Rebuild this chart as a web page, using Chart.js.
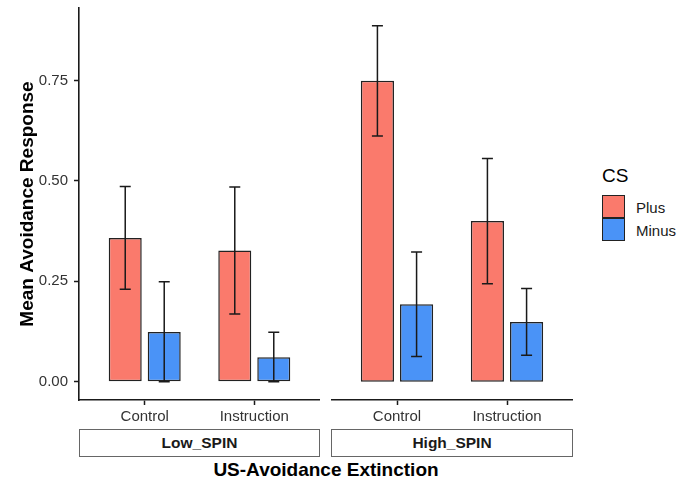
<!DOCTYPE html>
<html lang="en">
<head>
    <meta charset="UTF-8">
    <title>Mean Avoidance Response</title>
    <script src="https://cdn.jsdelivr.net/npm/chart.js@4.4.1/dist/chart.umd.min.js"></script>
    <style>
        body {
            margin: 0;
            background: #fff;
            font-family: 'Liberation Sans', Arial, sans-serif;
        }
        .wrap {
            position: relative;
            width: 688px;
            height: 480px;
        }
        .panel { position: absolute; top: 0; }
        .strip {
            position: absolute;
            top: 429px;
            height: 28px;
            box-sizing: border-box;
            border: 1px solid #666;
            font-weight: bold;
            font-size: 15.5px;
            line-height: 26px;
            text-align: center;
            color: #1a1a1a;
        }
        #xtitle {
            position: absolute;
            left: 79px;
            width: 494px;
            top: 460px;
            font-size: 19px;
            line-height: 19px;
            font-weight: bold;
            text-align: center;
        }
        #legend-title {
            position: absolute;
            left: 602px;
            top: 166px;
            font-size: 19px;
            line-height: 19px;
        }
        .key {
            position: absolute;
            left: 602px;
            width: 23px;
            height: 23px;
            box-sizing: border-box;
            border: 1.5px solid #222;
        }
        .key-label {
            position: absolute;
            left: 636px;
            font-size: 15px;
            line-height: 15px;
            color: #1a1a1a;
        }
    </style>
</head>
<body>
<div class="wrap">
    <div class="panel" style="left:0"><canvas id="lowChart" width="320" height="426"></canvas></div>
    <div class="panel" style="left:331px"><canvas id="highChart" width="242" height="426"></canvas></div>
    <div class="strip" id="strip0" style="left:79px;width:241px"></div>
    <div class="strip" id="strip1" style="left:331px;width:242px"></div>
    <div id="xtitle">US-Avoidance Extinction</div>
    <div id="legend-title">CS</div>
    <div class="key" id="key0" style="top:195px"></div>
    <div class="key" id="key1" style="top:217.5px"></div>
    <div class="key-label" id="lab0" style="top:200px"></div>
    <div class="key-label" id="lab1" style="top:222.5px"></div>
</div>

<script>
    // groups and facets
    const categories = ['Control', 'Instruction'];
    const panels = ['Low_SPIN', 'High_SPIN'];
    const csLevels = ['Plus', 'Minus'];
    const csColors = ['#fa7a6c', '#4a93f7'];

    // means and standard errors per facet
    const lowPlus = [0.358, 0.327];
    const lowPlusSe = [0.128, 0.158];
    const lowMinus = [0.124, 0.061];
    const lowMinusSe = [0.125, 0.062];
    const highPlus = [0.749, 0.400];
    const highPlusSe = [0.137, 0.156];
    const highMinus = [0.193, 0.149];
    const highMinusSe = [0.130, 0.083];

    const yTicks = [0, 0.25, 0.5, 0.75];

    Chart.defaults.font.family = "'Liberation Sans', Arial, sans-serif";
    Chart.defaults.font.size = 15;
    Chart.defaults.color = '#333';

    // shared y range, padded 5% like ggplot
    const allMeans = [lowPlus, lowMinus, highPlus, highMinus];
    const allSe = [lowPlusSe, lowMinusSe, highPlusSe, highMinusSe];
    let yLo = 0, yHi = 0;
    allMeans.forEach((m, k) => m.forEach((v, i) => {
        yLo = Math.min(yLo, v - allSe[k][i]);
        yHi = Math.max(yHi, v + allSe[k][i]);
    }));
    const yPad = (yHi - yLo) * 0.05;

    // mean +/- se whiskers on top of each bar
    const errorBars = {
        id: 'errorBars',
        afterDatasetsDraw(chart) {
            const ctx = chart.ctx;
            const y = chart.scales.y;
            ctx.save();
            ctx.strokeStyle = '#1a1a1a';
            ctx.lineWidth = 1.5;
            chart.data.datasets.forEach((ds, d) => {
                const meta = chart.getDatasetMeta(d);
                meta.data.forEach((bar, i) => {
                    const m = ds.data[i].y, se = ds.se[i];
                    const top = y.getPixelForValue(m + se);
                    const bot = y.getPixelForValue(Math.max(m - se, 0));
                    const cap = 5.5;
                    ctx.beginPath();
                    ctx.moveTo(bar.x, top);
                    ctx.lineTo(bar.x, bot);
                    ctx.moveTo(bar.x - cap, top);
                    ctx.lineTo(bar.x + cap, top);
                    ctx.moveTo(bar.x - cap, bot);
                    ctx.lineTo(bar.x + cap, bot);
                    ctx.stroke();
                });
            });
            ctx.restore();
        }
    };

    function makeDataset(label, color, means, se) {
        return {
            label: label,
            data: means.map((v, i) => ({ x: i + 1, y: v })),
            se: se,
            backgroundColor: color,
            borderColor: '#222',
            borderWidth: 1.5,
            borderSkipped: false,
            categoryPercentage: 0.712,
            barPercentage: 0.846
        };
    }

    function makeChart(id, plus, plusSe, minus, minusSe, showY) {
        return new Chart(document.getElementById(id), {
            type: 'bar',
            data: {
                datasets: [
                    makeDataset(csLevels[0], csColors[0], plus, plusSe),
                    makeDataset(csLevels[1], csColors[1], minus, minusSe)
                ]
            },
            options: {
                responsive: false,
                animation: false,
                layout: { padding: { top: 8, left: 0, right: 0, bottom: 0 } },
                plugins: { legend: { display: false }, tooltip: { enabled: false } },
                scales: {
                    x: {
                        type: 'linear',
                        offset: false,
                        min: 0.4,
                        max: 2.6,
                        afterBuildTicks: s => { s.ticks = categories.map((c, i) => ({ value: i + 1 })); },
                        afterFit: s => { s.height = 26; s.paddingLeft = 0; s.paddingRight = 0; },
                        ticks: {
                            padding: 3,
                            callback: v => categories[v - 1]
                        },
                        grid: {
                            offset: false,
                            drawOnChartArea: false,
                            drawTicks: true,
                            tickLength: 5,
                            tickColor: '#1a1a1a',
                            tickWidth: 1.5
                        },
                        border: { display: true, color: '#1a1a1a', width: 1.6 }
                    },
                    y: {
                        display: showY,
                        min: yLo - yPad,
                        max: yHi + yPad,
                        afterBuildTicks: s => { s.ticks = yTicks.map(v => ({ value: v })); },
                        afterFit: s => { s.width = showY ? 79 : 0; s.paddingTop = 0; s.paddingBottom = 0; },
                        ticks: {
                            padding: 6,
                            callback: v => v.toFixed(2)
                        },
                        grid: {
                            drawOnChartArea: false,
                            drawTicks: true,
                            tickLength: 5,
                            tickColor: '#1a1a1a',
                            tickWidth: 1.5
                        },
                        border: { display: true, color: '#1a1a1a', width: 1.6 },
                        title: {
                            display: true,
                            text: 'Mean Avoidance Response',
                            color: '#000',
                            font: { size: 19, weight: 'bold' },
                            padding: { top: 16, bottom: 0 }
                        }
                    }
                }
            },
            plugins: [errorBars]
        });
    }

    makeChart('lowChart', lowPlus, lowPlusSe, lowMinus, lowMinusSe, true);
    makeChart('highChart', highPlus, highPlusSe, highMinus, highMinusSe, false);

    panels.forEach((p, i) => { document.getElementById('strip' + i).textContent = p; });
    csLevels.forEach((c, i) => {
        document.getElementById('key' + i).style.background = csColors[i];
        document.getElementById('lab' + i).textContent = c;
    });
</script>
</body>
</html>
